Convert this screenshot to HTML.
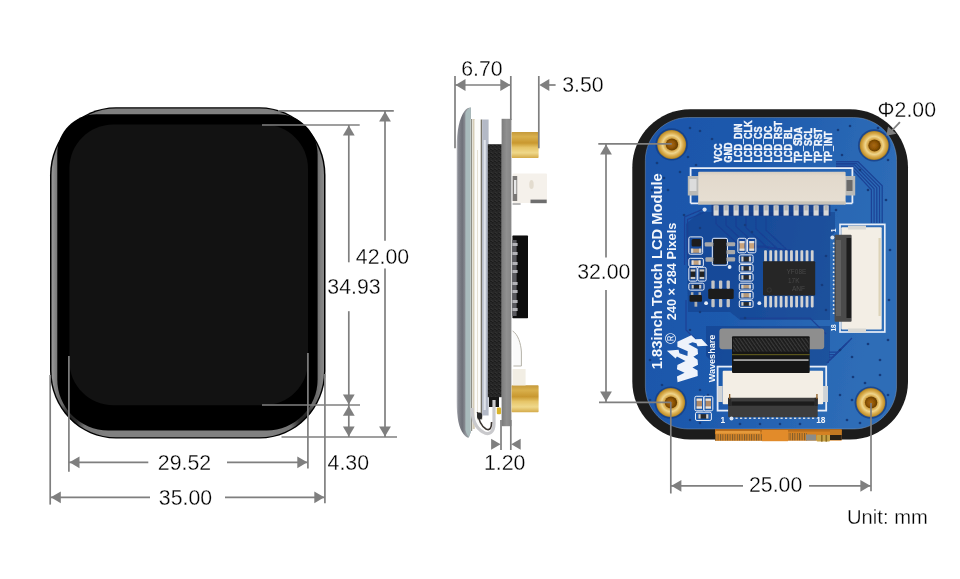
<!DOCTYPE html>
<html lang="en"><head><meta charset="utf-8"><title>1.83inch Touch LCD Module - Dimensions</title>
<style>
html,body{margin:0;padding:0;background:#fff;}
body{width:960px;height:579px;overflow:hidden;}
svg{display:block;will-change:transform;}
text{font-family:"Liberation Sans",sans-serif;}
.d{fill:#000;stroke:#fff;stroke-width:0.3px;}
</style></head><body>
<svg width="960" height="579" viewBox="0 0 960 579">
<rect width="960" height="579" fill="#fff"/>
<defs>
<linearGradient id="hl" x1="0" x2="1" y1="0" y2="0"><stop offset="0" stop-color="#9a9a9a"/><stop offset="0.03" stop-color="#6a6a6a"/><stop offset="0.2" stop-color="#808080"/><stop offset="0.8" stop-color="#808080"/><stop offset="0.97" stop-color="#6a6a6a"/><stop offset="1" stop-color="#8a8a8a"/></linearGradient>
<linearGradient id="gold" x1="0" x2="0" y1="0" y2="1"><stop offset="0" stop-color="#c59a3c"/><stop offset="0.18" stop-color="#d9b04c"/><stop offset="0.42" stop-color="#c9982f"/><stop offset="0.6" stop-color="#e6c568"/><stop offset="0.8" stop-color="#efd88a"/><stop offset="1" stop-color="#d4aa48"/></linearGradient>
<radialGradient id="stand" cx="0.5" cy="0.5" r="0.5"><stop offset="0" stop-color="#c79330"/><stop offset="0.45" stop-color="#d7a748"/><stop offset="0.62" stop-color="#efd58c"/><stop offset="0.8" stop-color="#d9ab4c"/><stop offset="0.93" stop-color="#c4952f"/><stop offset="1" stop-color="#9a7628"/></radialGradient>
<linearGradient id="cream" x1="0" x2="0" y1="0" y2="1"><stop offset="0" stop-color="#d6cdc0"/><stop offset="0.12" stop-color="#e2d9cc"/><stop offset="0.9" stop-color="#e6ded2"/><stop offset="1" stop-color="#d2c9bc"/></linearGradient>
<radialGradient id="hole" cx="0.45" cy="0.5" r="0.55"><stop offset="0" stop-color="#a9690a"/><stop offset="0.6" stop-color="#8a5206"/><stop offset="1" stop-color="#5e3804"/></radialGradient>
<pattern id="fstripe" width="2.4" height="4" patternUnits="userSpaceOnUse"><rect width="2.4" height="4" fill="#d98528"/><rect width="1" height="4" fill="#7a5a2a"/></pattern>
<radialGradient id="cdark" cx="0.5" cy="0.5" r="0.5"><stop offset="0" stop-color="#000" stop-opacity="0.75"/><stop offset="0.45" stop-color="#000" stop-opacity="0.6"/><stop offset="1" stop-color="#000" stop-opacity="0"/></radialGradient>
<filter id="soft" x="-5%" y="-5%" width="110%" height="110%"><feGaussianBlur stdDeviation="0.45"/></filter>
<pattern id="hatch" width="3" height="3" patternUnits="userSpaceOnUse" patternTransform="rotate(-35)"><rect width="3" height="3" fill="#1c1c1c"/><rect width="1.2" height="3" fill="#3a3a3a"/></pattern>
<linearGradient id="pcb" x1="0" x2="1" y1="0" y2="0.25"><stop offset="0" stop-color="#1a55aa"/><stop offset="0.45" stop-color="#1e5aad"/><stop offset="0.8" stop-color="#2967b4"/><stop offset="1" stop-color="#2e6db7"/></linearGradient>
<linearGradient id="glass" gradientUnits="userSpaceOnUse" x1="456.7" x2="466" y1="0" y2="0"><stop offset="0" stop-color="#b8bac0"/><stop offset="0.2" stop-color="#84868e"/><stop offset="0.6" stop-color="#6e7078"/><stop offset="1" stop-color="#92969c"/></linearGradient>
<pattern id="foam" width="4" height="4" patternUnits="userSpaceOnUse"><rect width="4" height="4" fill="#1e1e1e"/><rect x="0.4" y="0.6" width="1" height="1" fill="#4a4a4a"/><rect x="2.4" y="2.4" width="1.1" height="1" fill="#3e3e3e"/><rect x="2.8" y="0.2" width="0.7" height="0.7" fill="#555"/><rect x="0.9" y="2.9" width="0.7" height="0.7" fill="#333"/></pattern>
<linearGradient id="pcbside" x1="0" x2="1" y1="0" y2="0"><stop offset="0" stop-color="#7c7c7c"/><stop offset="0.5" stop-color="#909090"/><stop offset="1" stop-color="#868686"/></linearGradient>
</defs>
<path d="M116.00,107.30 H259.50 C295.95,107.30 325.50,137.74 325.50,175.30 V370.50 C325.50,408.06 295.95,438.50 259.50,438.50 H116.00 C79.55,438.50 50.00,408.06 50.00,370.50 V175.30 C50.00,137.74 79.55,107.30 116.00,107.30 Z" fill="#000"/>
<path d="M116.00,108.60 H259.50 C295.12,108.60 324.00,138.37 324.00,175.10 V370.70 C324.00,407.43 295.12,437.20 259.50,437.20 H116.00 C80.38,437.20 51.50,407.43 51.50,370.70 V175.10 C51.50,138.37 80.38,108.60 116.00,108.60 Z" fill="url(#hl)"/>
<clipPath id="dclip"><path d="M116.00,107.30 H259.50 C295.95,107.30 325.50,137.74 325.50,175.30 V370.50 C325.50,408.06 295.95,438.50 259.50,438.50 H116.00 C79.55,438.50 50.00,408.06 50.00,370.50 V175.30 C50.00,137.74 79.55,107.30 116.00,107.30 Z"/></clipPath>
<g clip-path="url(#dclip)"><circle cx="69" cy="420" r="17" fill="url(#cdark)"/><circle cx="306.5" cy="420" r="17" fill="url(#cdark)"/></g>
<path d="M96.30,114.20 H277.60 C299.69,114.20 317.60,132.11 317.60,154.20 V379.60 C317.60,407.77 294.77,430.60 266.60,430.60 H108.30 C80.13,430.60 57.30,407.77 57.30,379.60 V153.20 C57.30,131.66 74.76,114.20 96.30,114.20 Z" fill="#000"/>
<path d="M113.40,124.50 H264.00 C288.30,124.50 308.00,144.20 308.00,168.50 V361.30 C308.00,385.60 288.30,405.30 264.00,405.30 H113.40 C89.10,405.30 69.40,385.60 69.40,361.30 V168.50 C69.40,144.20 89.10,124.50 113.40,124.50 Z" fill="#121212"/>
<line x1="278" y1="110.9" x2="393.8" y2="110.9" stroke="#7f7f7f" stroke-width="1.7"/>
<line x1="262" y1="125" x2="359.7" y2="125" stroke="#7f7f7f" stroke-width="1.7"/>
<line x1="262" y1="405" x2="360" y2="405" stroke="#7f7f7f" stroke-width="1.7"/>
<line x1="281.5" y1="437" x2="397" y2="437" stroke="#7f7f7f" stroke-width="1.7"/>
<line x1="348.8" y1="125" x2="348.8" y2="262.3" stroke="#7f7f7f" stroke-width="1.7"/>
<line x1="348.8" y1="311.2" x2="348.8" y2="405" stroke="#7f7f7f" stroke-width="1.7"/>
<polygon points="348.80,125.50 342.90,135.50 354.70,135.50" fill="#7f7f7f"/>
<polygon points="348.80,404.50 342.90,394.50 354.70,394.50" fill="#7f7f7f"/>
<line x1="385" y1="111" x2="385" y2="240.7" stroke="#7f7f7f" stroke-width="1.7"/>
<line x1="385" y1="268.4" x2="385" y2="437" stroke="#7f7f7f" stroke-width="1.7"/>
<polygon points="385.00,111.50 379.10,121.50 390.90,121.50" fill="#7f7f7f"/>
<polygon points="385.00,436.50 379.10,426.50 390.90,426.50" fill="#7f7f7f"/>
<line x1="348.8" y1="405" x2="348.8" y2="437" stroke="#7f7f7f" stroke-width="1.7"/>
<polygon points="348.80,405.80 342.90,415.80 354.70,415.80" fill="#7f7f7f"/>
<polygon points="348.80,436.50 342.90,426.50 354.70,426.50" fill="#7f7f7f"/>
<line x1="50.2" y1="375" x2="50.2" y2="504.6" stroke="#7f7f7f" stroke-width="1.7"/>
<line x1="68.9" y1="356" x2="68.9" y2="471.7" stroke="#7f7f7f" stroke-width="1.7"/>
<line x1="307.9" y1="353" x2="307.9" y2="468.5" stroke="#7f7f7f" stroke-width="1.7"/>
<line x1="324.9" y1="374" x2="324.9" y2="503.3" stroke="#7f7f7f" stroke-width="1.7"/>
<line x1="68.9" y1="462.3" x2="148.3" y2="462.3" stroke="#7f7f7f" stroke-width="1.7"/>
<line x1="227" y1="462.3" x2="307.9" y2="462.3" stroke="#7f7f7f" stroke-width="1.7"/>
<polygon points="69.50,462.30 79.50,456.40 79.50,468.20" fill="#7f7f7f"/>
<polygon points="307.30,462.30 297.30,456.40 297.30,468.20" fill="#7f7f7f"/>
<line x1="50.2" y1="497.3" x2="150" y2="497.3" stroke="#7f7f7f" stroke-width="1.7"/>
<line x1="225" y1="497.3" x2="325" y2="497.3" stroke="#7f7f7f" stroke-width="1.7"/>
<polygon points="50.80,497.30 60.80,491.40 60.80,503.20" fill="#7f7f7f"/>
<polygon points="324.30,497.30 314.30,491.40 314.30,503.20" fill="#7f7f7f"/>
<text class="d" x="184.5" y="470" font-size="21.3" text-anchor="middle" >29.52</text>
<text class="d" x="185.5" y="505" font-size="21.3" text-anchor="middle" >35.00</text>
<text class="d" x="348.3" y="469.5" font-size="21.3" text-anchor="middle" >4.30</text>
<text class="d" x="382.5" y="263.8" font-size="21.3" text-anchor="middle" >42.00</text>
<text class="d" x="354" y="294.2" font-size="21.3" text-anchor="middle" >34.93</text>
<g id="side" filter="url(#soft)">
<path d="M470.8,107.6 C468.5,107.6 466.5,108.6 464.6,111 C459.5,118 456.7,130 456.7,148 V402 C456.7,418 459,428 463.5,434 C465.2,436.4 467,437.8 468.6,437.8 L470.8,432 Z" fill="url(#glass)"/>
<path d="M465.4,113 C466.8,110 468.6,107.8 470.8,107.6 V432 L469,437 C467.4,436 466.2,433 465.4,430 Z" fill="#a9bbbc"/>
<rect x="470.60" y="119.00" width="2.20" height="312.00" fill="#e4e6e4"/>
<rect x="471.00" y="119.00" width="1.00" height="312.00" fill="#8e8e86"/>
<rect x="472.60" y="119.00" width="2.20" height="310.00" fill="#d6ceb8"/>
<rect x="474.60" y="119.50" width="6.60" height="306.00" fill="#fbfbfa"/>
<rect x="477.00" y="150.00" width="0.90" height="270.00" fill="#e2ddd0"/>
<rect x="480.70" y="119.50" width="1.50" height="300.00" fill="#77746a"/>
<rect x="482.20" y="119.50" width="6.40" height="296.00" fill="#b3b9c6"/>
<rect x="483.60" y="140.00" width="2.20" height="270.00" fill="#dfe3ea"/>
<rect x="487.80" y="144.20" width="14.00" height="253.00" fill="url(#foam)"/>
<rect x="489.00" y="397.00" width="10.00" height="10.00" fill="#141414"/>
<rect x="501.60" y="118.80" width="9.80" height="307.40" fill="url(#pcbside)"/>
<path d="M472,408 C472,420 476,428 483,432 C489,436 494,432 494,424 V400" fill="none" stroke="#c9c9cc" stroke-width="3.2"/>
<path d="M477.5,412 C478.5,420 481,426 486,429 C490,431 491.6,428 491.6,422" fill="none" stroke="#3a3430" stroke-width="1.6"/>
<ellipse cx="479.6" cy="416" rx="2.6" ry="3.6" fill="#2a2a2a"/>
<rect x="496.80" y="407.40" width="4.20" height="6.80" fill="#d9b32a" rx="1"/>
<rect x="511.60" y="132.00" width="27.00" height="26.00" fill="url(#gold)" rx="0.8"/>
<rect x="511.60" y="385.30" width="27.00" height="27.00" fill="url(#gold)" rx="0.8"/>
<rect x="512.60" y="173.60" width="34.40" height="29.40" fill="#f5f1eb" rx="1"/>
<rect x="512.60" y="176.00" width="4.60" height="25.00" fill="#7a7876"/>
<rect x="514.00" y="180.00" width="2.40" height="14.00" fill="#e8e8e8"/>
<rect x="530.50" y="199.60" width="16.20" height="3.60" fill="#6e6e6e"/>
<rect x="512.60" y="203.00" width="8.00" height="2.00" fill="#b8b8b8"/>
<ellipse cx="531.5" cy="184.5" rx="2.2" ry="4.6" fill="#e3dccf"/>
<rect x="512.40" y="235.60" width="15.60" height="82.60" fill="#0c0c0c" rx="0.6"/>
<rect x="512.40" y="240.00" width="4.20" height="76.00" fill="#5a5a5e"/>
<rect x="512.40" y="243.00" width="5.20" height="3.00" fill="#b4b4b8"/>
<rect x="512.40" y="252.00" width="5.20" height="3.00" fill="#b4b4b8"/>
<rect x="512.40" y="262.00" width="5.20" height="3.00" fill="#b4b4b8"/>
<rect x="512.40" y="270.00" width="5.20" height="3.00" fill="#b4b4b8"/>
<rect x="512.40" y="282.00" width="5.20" height="3.00" fill="#b4b4b8"/>
<rect x="512.40" y="290.00" width="5.20" height="3.00" fill="#b4b4b8"/>
<rect x="512.40" y="300.00" width="5.20" height="3.00" fill="#b4b4b8"/>
<rect x="512.40" y="308.00" width="5.20" height="3.00" fill="#b4b4b8"/>
<path d="M512.6,331 C518,334 521,344 521.4,352 V366 H513.4" fill="#fafafa" stroke="#b5b2a8" stroke-width="1"/>
<rect x="512.60" y="369.00" width="13.00" height="16.40" fill="#f2eee4"/>
</g>
<line x1="455" y1="76" x2="455" y2="148.3" stroke="#7f7f7f" stroke-width="1.7"/>
<line x1="510.8" y1="76" x2="510.8" y2="120" stroke="#7f7f7f" stroke-width="1.7"/>
<line x1="538.8" y1="76" x2="538.8" y2="148.3" stroke="#7f7f7f" stroke-width="1.7"/>
<line x1="455" y1="85" x2="511" y2="85" stroke="#7f7f7f" stroke-width="1.7"/>
<polygon points="455.50,85.00 465.50,79.10 465.50,90.90" fill="#7f7f7f"/>
<polygon points="510.30,85.00 500.30,79.10 500.30,90.90" fill="#7f7f7f"/>
<polygon points="539.30,85.00 549.30,79.10 549.30,90.90" fill="#7f7f7f"/>
<line x1="545" y1="85" x2="555.6" y2="85" stroke="#7f7f7f" stroke-width="1.7"/>
<text class="d" x="482" y="76" font-size="21.3" text-anchor="middle" >6.70</text>
<text class="d" x="583" y="91.8" font-size="21.3" text-anchor="middle" >3.50</text>
<line x1="501" y1="420" x2="501" y2="450" stroke="#7f7f7f" stroke-width="1.7"/>
<line x1="510.8" y1="420" x2="510.8" y2="450" stroke="#7f7f7f" stroke-width="1.7"/>
<polygon points="500.60,444.30 491.10,438.80 491.10,449.80" fill="#7f7f7f"/>
<polygon points="511.20,444.30 520.70,438.80 520.70,449.80" fill="#7f7f7f"/>
<text class="d" x="504.7" y="469.6" font-size="21.3" text-anchor="middle" >1.20</text>
<g id="rear" filter="url(#soft)">
<path d="M690.30,109.30 H850.00 C882.03,109.30 908.00,135.27 908.00,167.30 V381.60 C908.00,413.63 882.03,439.60 850.00,439.60 H690.30 C658.27,439.60 632.30,413.63 632.30,381.60 V167.30 C632.30,135.27 658.27,109.30 690.30,109.30 Z" fill="#1a1a1a"/>
<path d="M688.30,117.50 H853.60 C877.35,117.50 896.60,136.75 896.60,160.50 V386.00 C896.60,409.75 877.35,429.00 853.60,429.00 H688.30 C664.55,429.00 645.30,409.75 645.30,386.00 V160.50 C645.30,136.75 664.55,117.50 688.30,117.50 Z" fill="url(#pcb)" stroke="#8fa3bf" stroke-opacity="0.55" stroke-width="0.8"/>
<clipPath id="pcbclip"><path d="M688.30,117.50 H853.60 C877.35,117.50 896.60,136.75 896.60,160.50 V386.00 C896.60,409.75 877.35,429.00 853.60,429.00 H688.30 C664.55,429.00 645.30,409.75 645.30,386.00 V160.50 C645.30,136.75 664.55,117.50 688.30,117.50 Z"/></clipPath>
<rect x="715.00" y="429.40" width="126.60" height="11.20" fill="#d58124"/>
<rect x="715.00" y="429.40" width="126.60" height="2.20" fill="#b96d1c"/>
<rect x="715.00" y="434.20" width="47.00" height="6.40" fill="url(#fstripe)"/>
<rect x="716.00" y="431.00" width="44.00" height="2.60" fill="#e59a3a"/>
<rect x="762.00" y="430.00" width="26.00" height="11.20" fill="#e28b2b"/>
<rect x="788.00" y="433.00" width="19.00" height="7.40" fill="url(#fstripe)"/>
<rect x="806.00" y="434.50" width="10.00" height="6.00" fill="#8c8c88"/>
<rect x="816.50" y="435.00" width="13.50" height="6.60" fill="#c9a244" rx="1"/>
<rect x="821.00" y="435.00" width="1.60" height="6.60" fill="#8a6a20"/>
<rect x="825.50" y="435.00" width="1.60" height="6.60" fill="#8a6a20"/>
<rect x="830.00" y="430.00" width="11.60" height="5.00" fill="#c47a22"/>
<rect x="830.00" y="435.00" width="11.60" height="5.00" fill="#2a2118"/>
<g clip-path="url(#pcbclip)">
<g fill="#123c86" opacity="0.5">
<path d="M686,224 L700,212 H835 V232 L830,238 V320 H740 L730,312 H688 Z"/>
<path d="M706,326 H830 V360 L826,366 H716 L706,356 Z"/>
</g>
<g fill="none" stroke="#1b3f93" stroke-width="1.25" opacity="0.9">
<path d="M836,161.70 H858.00 L882.20,185.75 V223"/>
<path d="M836,163.30 H856.30 L879.50,186.75 V223"/>
<path d="M836,164.90 H854.60 L876.80,187.75 V223"/>
<path d="M836,166.50 H852.90 L874.10,188.75 V223"/>
<path d="M836,168.10 H851.20 L871.40,189.75 V223"/>
<path d="M829,352.0 H838.0 L852.0,338.0"/>
<path d="M829,354.6 H835.4 L849.4,340.6"/>
<path d="M829,357.2 H832.8 L846.8,343.2"/>
<path d="M829,359.8 H830.2 L844.2,345.8"/>
<path d="M829,362.4 H827.6 L841.6,348.4"/>
<path d="M716.0,216 V224.0 L740.0,246.0 H765.0"/>
<path d="M726.0,216 V225.3 L749.5,246.8 H770.2"/>
<path d="M736.0,216 V226.5 L759.0,247.7 H775.4"/>
<path d="M746.0,216 V227.8 L768.5,248.5 H780.6"/>
<path d="M756.0,216 V229.0 L778.0,249.4 H785.8"/>
<path d="M766.0,216 V230.3 L787.5,250.2 H791.0"/>
<path d="M702,209.6 L684.6,217 V265"/><path d="M705,212 L687.6,219.5 V262"/>
<path d="M686,300 V330 L700,344"/><path d="M740,318 H810 L826,334"/>
</g>
<circle cx="657" cy="163" r="1.3" fill="#123a7c"/>
<circle cx="652" cy="190" r="1.3" fill="#123a7c"/>
<circle cx="664" cy="178" r="1.3" fill="#123a7c"/>
<circle cx="690" cy="128" r="1.3" fill="#123a7c"/>
<circle cx="700" cy="131" r="1.3" fill="#123a7c"/>
<circle cx="712" cy="139" r="1.3" fill="#123a7c"/>
<circle cx="688" cy="157" r="1.3" fill="#123a7c"/>
<circle cx="696" cy="165" r="1.3" fill="#123a7c"/>
<circle cx="680" cy="172" r="1.3" fill="#123a7c"/>
<circle cx="668" cy="190" r="1.3" fill="#123a7c"/>
<circle cx="694" cy="188" r="1.3" fill="#123a7c"/>
<circle cx="655" cy="330" r="1.3" fill="#123a7c"/>
<circle cx="650" cy="360" r="1.3" fill="#123a7c"/>
<circle cx="662" cy="385" r="1.3" fill="#123a7c"/>
<circle cx="690" cy="330" r="1.3" fill="#123a7c"/>
<circle cx="700" cy="390" r="1.3" fill="#123a7c"/>
<circle cx="708" cy="395" r="1.3" fill="#123a7c"/>
<circle cx="650" cy="400" r="1.3" fill="#123a7c"/>
<circle cx="690" cy="420" r="1.3" fill="#123a7c"/>
<circle cx="700" cy="423" r="1.3" fill="#123a7c"/>
<circle cx="740" cy="424" r="1.3" fill="#123a7c"/>
<circle cx="760" cy="424" r="1.3" fill="#123a7c"/>
<circle cx="780" cy="424" r="1.3" fill="#123a7c"/>
<circle cx="800" cy="424" r="1.3" fill="#123a7c"/>
<circle cx="838" cy="130" r="1.3" fill="#123a7c"/>
<circle cx="850" cy="126" r="1.3" fill="#123a7c"/>
<circle cx="842" cy="155" r="1.3" fill="#123a7c"/>
<circle cx="860" cy="170" r="1.3" fill="#123a7c"/>
<circle cx="888" cy="160" r="1.3" fill="#123a7c"/>
<circle cx="886" cy="200" r="1.3" fill="#123a7c"/>
<circle cx="890" cy="250" r="1.3" fill="#123a7c"/>
<circle cx="889" cy="300" r="1.3" fill="#123a7c"/>
<circle cx="888" cy="340" r="1.3" fill="#123a7c"/>
<circle cx="840" cy="350" r="1.3" fill="#123a7c"/>
<circle cx="852" cy="357" r="1.3" fill="#123a7c"/>
<circle cx="868" cy="344" r="1.3" fill="#123a7c"/>
<circle cx="880" cy="360" r="1.3" fill="#123a7c"/>
<circle cx="853" cy="377" r="1.3" fill="#123a7c"/>
<circle cx="865" cy="383" r="1.3" fill="#123a7c"/>
<circle cx="880" cy="375" r="1.3" fill="#123a7c"/>
<circle cx="840" cy="395" r="1.3" fill="#123a7c"/>
<circle cx="852" cy="400" r="1.3" fill="#123a7c"/>
<circle cx="847" cy="420" r="1.3" fill="#123a7c"/>
<circle cx="860" cy="423" r="1.3" fill="#123a7c"/>
<circle cx="888" cy="395" r="1.3" fill="#123a7c"/>
<circle cx="878" cy="128" r="1.3" fill="#123a7c"/>
<circle cx="868" cy="190" r="1.3" fill="#123a7c"/>
<circle cx="836" cy="210" r="1.3" fill="#123a7c"/>
<circle cx="684" cy="215" r="1.3" fill="#123a7c"/>
<circle cx="700" cy="228" r="1.3" fill="#123a7c"/>
<circle cx="745" cy="225" r="1.3" fill="#123a7c"/>
<circle cx="752" cy="232" r="1.3" fill="#123a7c"/>
<circle cx="826" cy="256" r="1.3" fill="#123a7c"/>
<circle cx="822" cy="285" r="1.3" fill="#123a7c"/>
<circle cx="826" cy="310" r="1.3" fill="#123a7c"/>
<circle cx="745" cy="318" r="1.3" fill="#123a7c"/>
<circle cx="700" cy="312" r="1.3" fill="#123a7c"/>
<circle cx="690" cy="268" r="1.3" fill="#123a7c"/>
<text transform="translate(722.0,162.4) rotate(-90) scale(0.9,1)" font-size="10" font-weight="bold" fill="#f4f7fc" stroke="#f4f7fc" stroke-width="0.35">VCC</text>
<text transform="translate(732.0,162.4) rotate(-90) scale(0.9,1)" font-size="10" font-weight="bold" fill="#f4f7fc" stroke="#f4f7fc" stroke-width="0.35">GND</text>
<text transform="translate(742.0,162.4) rotate(-90) scale(0.9,1)" font-size="10" font-weight="bold" fill="#f4f7fc" stroke="#f4f7fc" stroke-width="0.35">LCD_DIN</text>
<text transform="translate(752.0,162.4) rotate(-90) scale(0.9,1)" font-size="10" font-weight="bold" fill="#f4f7fc" stroke="#f4f7fc" stroke-width="0.35">LCD_CLK</text>
<text transform="translate(762.0,162.4) rotate(-90) scale(0.9,1)" font-size="10" font-weight="bold" fill="#f4f7fc" stroke="#f4f7fc" stroke-width="0.35">LCD_CS</text>
<text transform="translate(772.0,162.4) rotate(-90) scale(0.9,1)" font-size="10" font-weight="bold" fill="#f4f7fc" stroke="#f4f7fc" stroke-width="0.35">LCD_DC</text>
<text transform="translate(782.0,162.4) rotate(-90) scale(0.9,1)" font-size="10" font-weight="bold" fill="#f4f7fc" stroke="#f4f7fc" stroke-width="0.35">LCD_RST</text>
<text transform="translate(792.0,162.4) rotate(-90) scale(0.9,1)" font-size="10" font-weight="bold" fill="#f4f7fc" stroke="#f4f7fc" stroke-width="0.35">LCD_BL</text>
<text transform="translate(802.0,162.4) rotate(-90) scale(0.9,1)" font-size="10" font-weight="bold" fill="#f4f7fc" stroke="#f4f7fc" stroke-width="0.35">TP_SDA</text>
<text transform="translate(812.0,162.4) rotate(-90) scale(0.9,1)" font-size="10" font-weight="bold" fill="#f4f7fc" stroke="#f4f7fc" stroke-width="0.35">TP_SCL</text>
<text transform="translate(822.0,162.4) rotate(-90) scale(0.9,1)" font-size="10" font-weight="bold" fill="#f4f7fc" stroke="#f4f7fc" stroke-width="0.35">TP_RST</text>
<text transform="translate(832.0,162.4) rotate(-90) scale(0.9,1)" font-size="10" font-weight="bold" fill="#f4f7fc" stroke="#f4f7fc" stroke-width="0.35">TP_INT</text>
<text transform="translate(661.80,369.20) rotate(-90)" font-size="14.72" font-weight="bold" fill="#f4f7fc" >1.83inch Touch LCD Module</text>
<text transform="translate(676.20,320.20) rotate(-90)" font-size="12.75" font-weight="bold" fill="#f4f7fc" >240 × 284 Pixels</text>
<text transform="translate(715.40,382.30) rotate(-90)" font-size="9.1" font-weight="bold" fill="#f4f7fc" >Waveshare</text>
<text transform="translate(676.20,344.00) rotate(-90)" font-size="15" font-weight="bold" fill="#f4f7fc" style="font-weight:normal">®</text>
<g fill="#eef3fb">
<polygon points="691.30,335.14 695.52,339.18 701.62,339.00 707.91,345.64 697.58,346.36 696.42,343.22 692.47,342.32 688.34,344.12 697.58,349.06 698.03,353.99 693.36,356.69 697.58,359.83 698.03,364.76 692.47,367.46 697.58,370.60 697.76,375.99 677.57,382.27 676.94,376.43 684.57,372.84 676.94,369.25 677.39,365.03 685.46,360.90 676.94,356.42 675.59,358.57 666.88,350.85 678.55,349.86 679.45,353.18 687.44,355.88 687.71,351.30 677.39,346.81 677.39,341.87"/>
</g>
<rect x="711.50" y="204.00" width="119.00" height="12.00" fill="#173a82" opacity="0.75"/>
<path d="M690.6,203.3 V168.2 H852.4 V203.3" fill="none" stroke="#e8eef8" stroke-width="1.8"/>
<path d="M690.6,203.3 H699 M844,203.3 H852.4" fill="none" stroke="#e8eef8" stroke-width="1.8"/>
<rect x="687.80" y="176.00" width="11.00" height="19.50" fill="#b9b9b6"/>
<rect x="689.50" y="179.00" width="7.00" height="12.00" fill="#dcdcdc"/>
<rect x="844.80" y="176.00" width="10.40" height="19.50" fill="#b9b9b6"/>
<rect x="846.50" y="180.00" width="6.00" height="11.00" fill="#6a6a6a"/>
<rect x="698.20" y="171.80" width="147.40" height="32.60" fill="url(#cream)" rx="1"/>
<rect x="698.20" y="201.40" width="147.40" height="3.00" fill="#c9c3b8"/>
<rect x="713.50" y="205.40" width="5.20" height="10.20" fill="#d8d8d8"/>
<rect x="714.50" y="205.40" width="3.20" height="5.00" fill="#b4b4b4"/>
<rect x="723.50" y="205.40" width="5.20" height="10.20" fill="#d8d8d8"/>
<rect x="724.50" y="205.40" width="3.20" height="5.00" fill="#b4b4b4"/>
<rect x="733.50" y="205.40" width="5.20" height="10.20" fill="#d8d8d8"/>
<rect x="734.50" y="205.40" width="3.20" height="5.00" fill="#b4b4b4"/>
<rect x="743.50" y="205.40" width="5.20" height="10.20" fill="#d8d8d8"/>
<rect x="744.50" y="205.40" width="3.20" height="5.00" fill="#b4b4b4"/>
<rect x="753.50" y="205.40" width="5.20" height="10.20" fill="#d8d8d8"/>
<rect x="754.50" y="205.40" width="3.20" height="5.00" fill="#b4b4b4"/>
<rect x="763.50" y="205.40" width="5.20" height="10.20" fill="#d8d8d8"/>
<rect x="764.50" y="205.40" width="3.20" height="5.00" fill="#b4b4b4"/>
<rect x="773.50" y="205.40" width="5.20" height="10.20" fill="#d8d8d8"/>
<rect x="774.50" y="205.40" width="3.20" height="5.00" fill="#b4b4b4"/>
<rect x="783.50" y="205.40" width="5.20" height="10.20" fill="#d8d8d8"/>
<rect x="784.50" y="205.40" width="3.20" height="5.00" fill="#b4b4b4"/>
<rect x="793.50" y="205.40" width="5.20" height="10.20" fill="#d8d8d8"/>
<rect x="794.50" y="205.40" width="3.20" height="5.00" fill="#b4b4b4"/>
<rect x="803.50" y="205.40" width="5.20" height="10.20" fill="#d8d8d8"/>
<rect x="804.50" y="205.40" width="3.20" height="5.00" fill="#b4b4b4"/>
<rect x="813.50" y="205.40" width="5.20" height="10.20" fill="#d8d8d8"/>
<rect x="814.50" y="205.40" width="3.20" height="5.00" fill="#b4b4b4"/>
<rect x="823.50" y="205.40" width="5.20" height="10.20" fill="#d8d8d8"/>
<rect x="824.50" y="205.40" width="3.20" height="5.00" fill="#b4b4b4"/>
<circle cx="704.6" cy="209.6" r="2.1" fill="#d5e0f0"/>
<rect x="688.84" y="236.91" width="13.82" height="17.27" rx="1.5" fill="none" stroke="#e8eef8" stroke-width="1"/>
<rect x="691.60" y="238.98" width="9.67" height="7.60" fill="#1c1c1c" rx="1.5"/>
<rect x="690.91" y="248.65" width="10.36" height="4.15" fill="#b89a78"/><rect x="690.91" y="248.65" width="2.28" height="4.15" fill="#d0d0d0"/><rect x="698.99" y="248.65" width="2.28" height="4.15" fill="#d0d0d0"/>
<rect x="712.32" y="238.29" width="15.20" height="26.94" rx="1.5" fill="none" stroke="#e8eef8" stroke-width="1"/>
<rect x="713.29" y="239.12" width="13.26" height="25.15" fill="#1e1e1e" rx="1"/>
<rect x="704.73" y="242.16" width="8.57" height="4.42" fill="#a9a9a9" rx="1"/>
<rect x="705.42" y="257.36" width="7.88" height="4.42" fill="#a9a9a9" rx="1"/>
<rect x="726.56" y="242.16" width="8.57" height="4.15" fill="#a9a9a9" rx="1"/>
<rect x="726.56" y="250.03" width="8.57" height="4.15" fill="#a9a9a9" rx="1"/>
<rect x="726.56" y="257.36" width="8.57" height="4.15" fill="#a9a9a9" rx="1"/>
<rect x="737.89" y="238.29" width="8.29" height="14.51" rx="1.5" fill="none" stroke="#e8eef8" stroke-width="1"/>
<rect x="747.56" y="238.29" width="8.29" height="14.51" rx="1.5" fill="none" stroke="#e8eef8" stroke-width="1"/>
<rect x="739.54" y="241.05" width="4.97" height="9.67" fill="#c9a27a"/><rect x="739.54" y="241.05" width="4.97" height="2.13" fill="#e0e0e0"/><rect x="739.54" y="248.60" width="4.97" height="2.13" fill="#e0e0e0"/>
<rect x="749.22" y="241.05" width="4.97" height="9.67" fill="#c9a27a"/><rect x="749.22" y="241.05" width="4.97" height="2.13" fill="#e0e0e0"/><rect x="749.22" y="248.60" width="4.97" height="2.13" fill="#e0e0e0"/>
<rect x="739.27" y="254.87" width="13.82" height="8.29" rx="1.5" fill="none" stroke="#e8eef8" stroke-width="1"/>
<rect x="741.34" y="256.53" width="9.67" height="4.97" fill="#2a2a2a"/><rect x="741.34" y="256.53" width="2.13" height="4.97" fill="#d0d0d0"/><rect x="748.88" y="256.53" width="2.13" height="4.97" fill="#d0d0d0"/>
<rect x="739.27" y="264.54" width="13.82" height="7.60" rx="1.5" fill="none" stroke="#e8eef8" stroke-width="1"/>
<rect x="741.34" y="266.20" width="9.67" height="4.28" fill="#2a2a2a"/><rect x="741.34" y="266.20" width="2.13" height="4.28" fill="#d0d0d0"/><rect x="748.88" y="266.20" width="2.13" height="4.28" fill="#d0d0d0"/>
<rect x="739.27" y="273.52" width="13.82" height="7.60" rx="1.5" fill="none" stroke="#e8eef8" stroke-width="1"/>
<rect x="741.34" y="275.18" width="9.67" height="4.28" fill="#2a2a2a"/><rect x="741.34" y="275.18" width="2.13" height="4.28" fill="#d0d0d0"/><rect x="748.88" y="275.18" width="2.13" height="4.28" fill="#d0d0d0"/>
<rect x="739.27" y="283.20" width="13.82" height="6.91" rx="1.5" fill="none" stroke="#e8eef8" stroke-width="1"/>
<rect x="741.34" y="284.85" width="9.67" height="3.59" fill="#b89a78"/><rect x="741.34" y="284.85" width="2.13" height="3.59" fill="#d0d0d0"/><rect x="748.88" y="284.85" width="2.13" height="3.59" fill="#d0d0d0"/>
<rect x="739.27" y="291.49" width="13.82" height="7.60" rx="1.5" fill="none" stroke="#e8eef8" stroke-width="1"/>
<rect x="741.34" y="293.14" width="9.67" height="4.28" fill="#b89a78"/><rect x="741.34" y="293.14" width="2.13" height="4.28" fill="#d0d0d0"/><rect x="748.88" y="293.14" width="2.13" height="4.28" fill="#d0d0d0"/>
<rect x="739.27" y="300.47" width="13.82" height="6.91" rx="1.5" fill="none" stroke="#e8eef8" stroke-width="1"/>
<rect x="741.34" y="302.12" width="9.67" height="3.59" fill="#2a2a2a"/><rect x="741.34" y="302.12" width="2.13" height="3.59" fill="#d0d0d0"/><rect x="748.88" y="302.12" width="2.13" height="3.59" fill="#d0d0d0"/>
<rect x="688.84" y="258.32" width="14.51" height="8.29" rx="1.5" fill="none" stroke="#e8eef8" stroke-width="1"/>
<rect x="691.60" y="260.40" width="8.98" height="4.42" fill="#c2a17c"/><rect x="691.60" y="260.40" width="1.98" height="4.42" fill="#e0e0e0"/><rect x="698.60" y="260.40" width="1.98" height="4.42" fill="#e0e0e0"/>
<rect x="688.84" y="267.31" width="8.29" height="13.82" rx="1.5" fill="none" stroke="#e8eef8" stroke-width="1"/>
<rect x="697.82" y="267.31" width="8.29" height="13.82" rx="1.5" fill="none" stroke="#e8eef8" stroke-width="1"/>
<rect x="690.63" y="269.38" width="4.70" height="9.67" fill="#222"/><rect x="690.63" y="269.38" width="4.70" height="2.13" fill="#c8c8c8"/><rect x="690.63" y="276.92" width="4.70" height="2.13" fill="#c8c8c8"/>
<rect x="699.61" y="269.38" width="4.70" height="9.67" fill="#222"/><rect x="699.61" y="269.38" width="4.70" height="2.13" fill="#c8c8c8"/><rect x="699.61" y="276.92" width="4.70" height="2.13" fill="#c8c8c8"/>
<rect x="688.84" y="283.20" width="15.20" height="6.91" rx="1.5" fill="none" stroke="#e8eef8" stroke-width="1"/>
<rect x="691.60" y="284.85" width="9.67" height="3.73" fill="#222"/><rect x="691.60" y="284.85" width="2.13" height="3.73" fill="#c8c8c8"/><rect x="699.14" y="284.85" width="2.13" height="3.73" fill="#c8c8c8"/>
<rect x="689.53" y="294.94" width="12.44" height="6.91" fill="#1c1c1c" rx="1"/>
<rect x="690.91" y="292.18" width="2.49" height="2.76" fill="#b0b0b0"/>
<rect x="698.51" y="292.18" width="2.49" height="2.76" fill="#b0b0b0"/>
<rect x="694.50" y="301.85" width="2.76" height="4.84" fill="#b0b0b0"/>
<rect x="708.18" y="288.72" width="25.56" height="10.36" fill="#1e1e1e" rx="1.5"/>
<rect x="711.36" y="280.43" width="3.32" height="8.29" fill="#c4c4c4" rx="1"/>
<rect x="711.36" y="299.08" width="3.32" height="8.29" fill="#c4c4c4" rx="1"/>
<rect x="718.96" y="280.43" width="3.32" height="8.29" fill="#c4c4c4" rx="1"/>
<rect x="718.96" y="299.08" width="3.32" height="8.29" fill="#c4c4c4" rx="1"/>
<rect x="726.56" y="280.43" width="3.32" height="8.29" fill="#c4c4c4" rx="1"/>
<rect x="726.56" y="299.08" width="3.32" height="8.29" fill="#c4c4c4" rx="1"/>
<circle cx="729.6" cy="267.0" r="1.9" fill="#e6ecf6"/>
<circle cx="706.1" cy="303.2" r="1.9" fill="#e6ecf6"/>
<circle cx="759.3" cy="303.2" r="1.9" fill="#e6ecf6"/>
<rect x="694.80" y="396.30" width="9.00" height="14.50" rx="1.5" fill="none" stroke="#e8eef8" stroke-width="1"/>
<rect x="703.80" y="396.30" width="9.00" height="14.50" rx="1.5" fill="none" stroke="#e8eef8" stroke-width="1"/>
<rect x="696.60" y="398.60" width="5.40" height="10.00" fill="#b08a68"/><rect x="696.60" y="398.60" width="5.40" height="2.20" fill="#e4e4e4"/><rect x="696.60" y="406.40" width="5.40" height="2.20" fill="#e4e4e4"/>
<rect x="705.60" y="398.60" width="5.40" height="10.00" fill="#b08a68"/><rect x="705.60" y="398.60" width="5.40" height="2.20" fill="#e4e4e4"/><rect x="705.60" y="406.40" width="5.40" height="2.20" fill="#e4e4e4"/>
<rect x="695.50" y="412.20" width="15.90" height="8.30" rx="1.5" fill="none" stroke="#e8eef8" stroke-width="1"/>
<rect x="698.40" y="414.20" width="10.00" height="4.40" fill="#2a2a2a"/><rect x="698.40" y="414.20" width="2.20" height="4.40" fill="#d0d0d0"/><rect x="706.20" y="414.20" width="2.20" height="4.40" fill="#d0d0d0"/>
<rect x="764.10" y="250.20" width="2.80" height="11.50" fill="#d2d2d2" rx="0.8"/>
<rect x="764.10" y="296.00" width="2.80" height="11.40" fill="#d2d2d2" rx="0.8"/>
<rect x="769.29" y="250.20" width="2.80" height="11.50" fill="#d2d2d2" rx="0.8"/>
<rect x="769.29" y="296.00" width="2.80" height="11.40" fill="#d2d2d2" rx="0.8"/>
<rect x="774.48" y="250.20" width="2.80" height="11.50" fill="#d2d2d2" rx="0.8"/>
<rect x="774.48" y="296.00" width="2.80" height="11.40" fill="#d2d2d2" rx="0.8"/>
<rect x="779.67" y="250.20" width="2.80" height="11.50" fill="#d2d2d2" rx="0.8"/>
<rect x="779.67" y="296.00" width="2.80" height="11.40" fill="#d2d2d2" rx="0.8"/>
<rect x="784.86" y="250.20" width="2.80" height="11.50" fill="#d2d2d2" rx="0.8"/>
<rect x="784.86" y="296.00" width="2.80" height="11.40" fill="#d2d2d2" rx="0.8"/>
<rect x="790.05" y="250.20" width="2.80" height="11.50" fill="#d2d2d2" rx="0.8"/>
<rect x="790.05" y="296.00" width="2.80" height="11.40" fill="#d2d2d2" rx="0.8"/>
<rect x="795.24" y="250.20" width="2.80" height="11.50" fill="#d2d2d2" rx="0.8"/>
<rect x="795.24" y="296.00" width="2.80" height="11.40" fill="#d2d2d2" rx="0.8"/>
<rect x="800.43" y="250.20" width="2.80" height="11.50" fill="#d2d2d2" rx="0.8"/>
<rect x="800.43" y="296.00" width="2.80" height="11.40" fill="#d2d2d2" rx="0.8"/>
<rect x="805.62" y="250.20" width="2.80" height="11.50" fill="#d2d2d2" rx="0.8"/>
<rect x="805.62" y="296.00" width="2.80" height="11.40" fill="#d2d2d2" rx="0.8"/>
<rect x="810.81" y="250.20" width="2.80" height="11.50" fill="#d2d2d2" rx="0.8"/>
<rect x="810.81" y="296.00" width="2.80" height="11.40" fill="#d2d2d2" rx="0.8"/>
<rect x="763.00" y="261.20" width="52.20" height="34.20" fill="#262626" rx="1"/>
<circle cx="769.2" cy="290" r="2.2" fill="none" stroke="#3a3a3a" stroke-width="0.7"/>
<text x="786.5" y="274" font-size="6.5" fill="#484848" style="fill:#484848">YF08E</text>
<text x="788" y="282.5" font-size="6.5" fill="#484848" style="fill:#484848">17K</text>
<text x="792" y="291" font-size="6.5" fill="#484848" style="fill:#484848">ANF</text>
<rect x="840" y="224.4" width="44.8" height="107.6" fill="none" stroke="#e8eef8" stroke-width="1.7"/>
<rect x="841.30" y="227.30" width="40.40" height="102.20" fill="#f3eee5" rx="1"/>
<rect x="848.00" y="225.50" width="18.00" height="4.00" fill="#d8d8d4"/>
<rect x="848.00" y="328.50" width="18.00" height="4.00" fill="#d8d8d4"/>
<rect x="878.50" y="238.00" width="2.20" height="78.00" fill="#ddd3b8"/>
<rect x="834.60" y="234.70" width="17.00" height="87.00" fill="#4b4b4b" rx="1"/>
<rect x="846.50" y="238.00" width="4.60" height="80.00" fill="#1b1b1b"/>
<rect x="836.00" y="240.00" width="5.00" height="76.00" fill="#5e5e5e"/>
<circle cx="833.6" cy="243.5" r="0.9" fill="#e8e8e8"/>
<circle cx="833.6" cy="247.6" r="0.9" fill="#e8e8e8"/>
<circle cx="833.6" cy="251.7" r="0.9" fill="#e8e8e8"/>
<circle cx="833.6" cy="255.8" r="0.9" fill="#e8e8e8"/>
<circle cx="833.6" cy="259.9" r="0.9" fill="#e8e8e8"/>
<circle cx="833.6" cy="264.0" r="0.9" fill="#e8e8e8"/>
<circle cx="833.6" cy="268.1" r="0.9" fill="#e8e8e8"/>
<circle cx="833.6" cy="272.2" r="0.9" fill="#e8e8e8"/>
<circle cx="833.6" cy="276.3" r="0.9" fill="#e8e8e8"/>
<circle cx="833.6" cy="280.4" r="0.9" fill="#e8e8e8"/>
<circle cx="833.6" cy="284.5" r="0.9" fill="#e8e8e8"/>
<circle cx="833.6" cy="288.6" r="0.9" fill="#e8e8e8"/>
<circle cx="833.6" cy="292.7" r="0.9" fill="#e8e8e8"/>
<circle cx="833.6" cy="296.8" r="0.9" fill="#e8e8e8"/>
<circle cx="833.6" cy="300.9" r="0.9" fill="#e8e8e8"/>
<circle cx="833.6" cy="305.0" r="0.9" fill="#e8e8e8"/>
<circle cx="833.6" cy="309.1" r="0.9" fill="#e8e8e8"/>
<circle cx="833.6" cy="313.2" r="0.9" fill="#e8e8e8"/>
<circle cx="832.4" cy="237.4" r="2" fill="#d8e2f0"/>
<text transform="translate(836.20,232.30) rotate(-90)" font-size="6.5" font-weight="bold" fill="#f4f7fc" >1</text>
<text transform="translate(836.20,331.50) rotate(-90)" font-size="6.5" font-weight="bold" fill="#f4f7fc" >18</text>
<rect x="719.40" y="328.60" width="104.80" height="20.60" fill="#8e8e8e" rx="3"/>
<rect x="717.60" y="366.60" width="108.60" height="44.00" fill="none" stroke="#e8eef8" stroke-width="1.8"/>
<rect x="717.60" y="386.00" width="5.00" height="16.00" fill="#cfd3d6"/>
<rect x="823.00" y="386.00" width="5.00" height="16.00" fill="#cfd3d6"/>
<rect x="722.70" y="370.80" width="100.40" height="33.50" fill="#f3eee5" rx="1"/>
<rect x="732.00" y="336.20" width="77.70" height="36.70" fill="#191919" rx="1"/>
<rect x="733.00" y="338.00" width="75.70" height="13.50" fill="url(#hatch)"/>
<rect x="732.00" y="354.20" width="77.70" height="0.90" fill="#6b6420"/>
<rect x="733.50" y="359.40" width="75.00" height="1.30" fill="#d8d8d8"/>
<rect x="728.10" y="397.80" width="89.60" height="19.40" fill="#3c3c3c" rx="1"/>
<rect x="728.10" y="397.80" width="3.00" height="8.00" fill="#2a2a2a"/>
<rect x="814.70" y="397.80" width="3.00" height="8.00" fill="#2a2a2a"/>
<rect x="731.50" y="401.50" width="83.00" height="4.20" fill="#1d1d1d"/>
<rect x="729.00" y="394.00" width="1.30" height="5.00" fill="#8a5a20"/>
<rect x="816.30" y="394.00" width="1.30" height="5.00" fill="#8a5a20"/>
<rect x="735.50" y="417.60" width="2.20" height="1.30" fill="#e8e8e8"/>
<rect x="740.00" y="417.60" width="2.20" height="1.30" fill="#e8e8e8"/>
<rect x="744.50" y="417.60" width="2.20" height="1.30" fill="#e8e8e8"/>
<rect x="749.00" y="417.60" width="2.20" height="1.30" fill="#e8e8e8"/>
<rect x="753.50" y="417.60" width="2.20" height="1.30" fill="#e8e8e8"/>
<rect x="758.00" y="417.60" width="2.20" height="1.30" fill="#e8e8e8"/>
<rect x="762.50" y="417.60" width="2.20" height="1.30" fill="#e8e8e8"/>
<rect x="767.00" y="417.60" width="2.20" height="1.30" fill="#e8e8e8"/>
<rect x="771.50" y="417.60" width="2.20" height="1.30" fill="#e8e8e8"/>
<rect x="776.00" y="417.60" width="2.20" height="1.30" fill="#e8e8e8"/>
<rect x="780.50" y="417.60" width="2.20" height="1.30" fill="#e8e8e8"/>
<rect x="785.00" y="417.60" width="2.20" height="1.30" fill="#e8e8e8"/>
<rect x="789.50" y="417.60" width="2.20" height="1.30" fill="#e8e8e8"/>
<rect x="794.00" y="417.60" width="2.20" height="1.30" fill="#e8e8e8"/>
<rect x="798.50" y="417.60" width="2.20" height="1.30" fill="#e8e8e8"/>
<rect x="803.00" y="417.60" width="2.20" height="1.30" fill="#e8e8e8"/>
<rect x="807.50" y="417.60" width="2.20" height="1.30" fill="#e8e8e8"/>
<rect x="812.00" y="417.60" width="2.20" height="1.30" fill="#e8e8e8"/>
<circle cx="731.5" cy="418.6" r="2" fill="#d8e2f0"/>
<text x="720.4" y="422.6" font-size="8.4" font-weight="bold" fill="#f4f7fc">1</text>
<text x="816.2" y="422.6" font-size="8.4" font-weight="bold" fill="#f4f7fc">18</text>
</g>
<circle cx="671.6" cy="144.4" r="16.2" fill="#163f86" opacity="0.8"/>
<circle cx="671.6" cy="144.4" r="14.5" fill="url(#stand)"/>
<ellipse cx="671.9" cy="144.4" rx="6.2" ry="6" fill="url(#hole)"/>
<circle cx="874.2" cy="145.4" r="16.2" fill="#163f86" opacity="0.8"/>
<circle cx="874.2" cy="145.4" r="14.5" fill="url(#stand)"/>
<ellipse cx="874.5" cy="145.4" rx="6.2" ry="6" fill="url(#hole)"/>
<circle cx="670.6" cy="402.6" r="16.2" fill="#163f86" opacity="0.8"/>
<circle cx="670.6" cy="402.6" r="14.5" fill="url(#stand)"/>
<ellipse cx="670.9" cy="402.6" rx="6.2" ry="6" fill="url(#hole)"/>
<circle cx="870.8" cy="402.6" r="16.2" fill="#163f86" opacity="0.8"/>
<circle cx="870.8" cy="402.6" r="14.5" fill="url(#stand)"/>
<ellipse cx="871.0999999999999" cy="402.6" rx="6.2" ry="6" fill="url(#hole)"/>
</g>
<line x1="598.3" y1="143.8" x2="671.8" y2="143.8" stroke="#7f7f7f" stroke-width="1.7"/>
<line x1="599" y1="402.3" x2="671" y2="402.3" stroke="#7f7f7f" stroke-width="1.7"/>
<line x1="606" y1="144" x2="606" y2="257.6" stroke="#7f7f7f" stroke-width="1.7"/>
<line x1="606" y1="290" x2="606" y2="402" stroke="#7f7f7f" stroke-width="1.7"/>
<polygon points="606.00,144.50 600.10,154.50 611.90,154.50" fill="#7f7f7f"/>
<polygon points="606.00,401.60 600.10,391.60 611.90,391.60" fill="#7f7f7f"/>
<text class="d" x="603.8" y="279.2" font-size="21.3" text-anchor="middle" >32.00</text>
<line x1="670.8" y1="402" x2="670.8" y2="493.5" stroke="#7f7f7f" stroke-width="1.7"/>
<line x1="871" y1="403" x2="871" y2="491.3" stroke="#7f7f7f" stroke-width="1.7"/>
<line x1="671" y1="485.8" x2="743" y2="485.8" stroke="#7f7f7f" stroke-width="1.7"/>
<line x1="809" y1="485.8" x2="871" y2="485.8" stroke="#7f7f7f" stroke-width="1.7"/>
<polygon points="671.40,485.80 681.40,479.90 681.40,491.70" fill="#7f7f7f"/>
<polygon points="870.40,485.80 860.40,479.90 860.40,491.70" fill="#7f7f7f"/>
<text class="d" x="775.6" y="491.8" font-size="21.3" text-anchor="middle" >25.00</text>
<text class="d" x="877.6 894.6" y="117.2" font-size="21.3">Φ2.00</text>
<line x1="899.9" y1="122.1" x2="892" y2="130.5" stroke="#7f7f7f" stroke-width="1.8"/>
<polygon points="886.4,135.8 888,126.6 896.4,133.7" fill="#7f7f7f"/>
<text class="d" x="887.4" y="524.3" font-size="20.2" text-anchor="middle" >Unit: mm</text>
</svg>
</body></html>
